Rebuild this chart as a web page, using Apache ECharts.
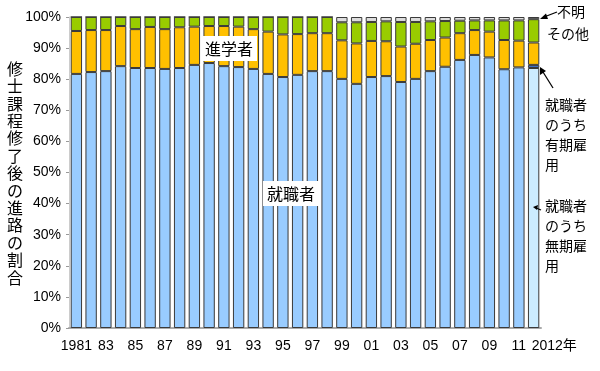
<!DOCTYPE html>
<html>
<head>
<meta charset="utf-8">
<script src="https://cdn.jsdelivr.net/npm/echarts@6/dist/echarts.min.js"></script>
<style>html,body{margin:0;padding:0;background:#fff}#c{width:600px;height:371px}</style>
</head>
<body>
<div id="c"></div>
<script>
var years = ['1981','82','83','84','85','86','87','88','89','90','91','92','93','94','95','96','97','98','99','00','01','02','03','04','05','06','07','08','09','10','11','2012'];
var employed = [81.7,82.3,82.6,84.2,83.6,83.6,83.3,83.6,84.6,85.2,84.2,83.9,83.3,81.7,80.7,81.4,82.6,82.6,80.1,78.5,80.7,81.0,79.1,80.1,82.6,84.0,86.2,87.8,87.0,83.2,83.8,83.6];
var fixedTerm = [null,null,null,null,null,null,null,null,null,null,null,null,null,null,null,null,null,null,null,null,null,null,null,null,null,null,null,null,null,null,null,1.0];
var further = [13.8,13.5,13.2,12.9,12.5,13.2,12.8,13.1,12.3,11.9,12.9,13.0,12.8,13.6,13.7,13.1,12.2,12.2,12.4,13.0,11.6,11.2,11.4,11.3,10.0,9.4,8.6,8.0,8.3,9.4,8.6,7.2];
var other = [4.5,4.2,4.2,2.9,3.9,3.2,3.9,3.3,3.1,2.9,2.9,3.1,3.9,4.7,5.6,5.5,5.2,5.2,5.8,6.8,6.1,6.4,7.9,7.0,6.0,5.3,4.0,3.1,3.6,6.3,6.5,7.5];
var unknown = [0,0,0,0,0,0,0,0,0,0,0,0,0,0,0,0,0,0,1.7,1.7,1.6,1.4,1.6,1.6,1.4,1.3,1.2,1.1,1.1,1.1,1.1,0.7];
var yTicks = ['0%','10%','20%','30%','40%','50%','60%','70%','80%','90%','100%'];

var FONT = '"Liberation Sans","Noto Sans CJK JP",sans-serif';
var JFONT = '"Noto Sans CJK JP",sans-serif';
var chart = echarts.init(document.getElementById('c'), null, {renderer:'canvas'});
var border = {borderColor:'#3a3a3a', borderWidth:1};
function st(name, data, color){
  return {name:name, type:'bar', stack:'a', data:data, barCategoryGap:'23%',
    itemStyle:Object.assign({color:color}, border), emphasis:{disabled:true}, animation:false};
}
var empData = employed.map(function(v,i){ return i===31 ? {value:v, itemStyle:{color:'#ccecff'}} : v; });
var catData = years.map(function(y,i){
  if(i===31) return {value:y, textStyle:{align:'left', padding:[0,0,0,-2]}};
  return y;
});
var Z = 100;
chart.setOption({
  animation:false,
  grid:{left:69, right:59, top:17, bottom:43},
  xAxis:{type:'category', data:catData,
    axisLine:{lineStyle:{color:'#aaaaaa', width:2}}, axisTick:{show:false},
    axisLabel:{interval:0, color:'#000', fontSize:14, fontFamily:FONT, margin:11,
      formatter:function(v,i){ if(i===0) return '1981'; if(i===31) return '2012年'; return i%2===0 ? v : ''; }}},
  yAxis:{type:'value', min:0, max:100, interval:10,
    splitLine:{show:false},
    axisLine:{show:true, lineStyle:{color:'#cccccc'}},
    axisTick:{show:true, length:3, lineStyle:{color:'#999'}},
    axisLabel:{color:'#000', fontSize:14, fontFamily:FONT, margin:8,
      formatter:function(v){ return yTicks[Math.round(v/10)]; }}},
  series:[
    st('就職者', empData, '#99ccff'),
    st('就職者のうち有期雇用', fixedTerm, '#3f6fc4'),
    st('進学者', further, '#ffc000'),
    st('その他', other, '#99cc00'),
    st('不明', unknown, '#dddddd')
  ],
  graphic:[
    {type:'text', z:Z, left:7, top:60, style:{text:'修\n士\n課\n程\n修\n了\n後\nの\n進\n路\nの\n割\n合', font:'16px '+JFONT, lineHeight:17.4, fill:'#000'}},
    {type:'rect', z:Z, shape:{x:201, y:36, width:56, height:25}, style:{fill:'#fff'}},
    {type:'text', z:Z+1, x:229, y:48.5, style:{text:'進学者', font:'16px '+JFONT, fill:'#000', align:'center', verticalAlign:'middle'}},
    {type:'rect', z:Z, shape:{x:263, y:181, width:56, height:25}, style:{fill:'#fff'}},
    {type:'text', z:Z+1, x:291, y:193.5, style:{text:'就職者', font:'16px '+JFONT, fill:'#000', align:'center', verticalAlign:'middle'}},
    {type:'text', z:Z, x:557, y:5, style:{text:'不明', font:'14px '+JFONT, fill:'#000'}},
    {type:'text', z:Z, x:547, y:27, style:{text:'その他', font:'14px '+JFONT, fill:'#000'}},
    {type:'text', z:Z, x:545, y:95, style:{text:'就職者\nのうち\n有期雇\n用', font:'14px '+JFONT, lineHeight:20, fill:'#000'}},
    {type:'text', z:Z, x:545, y:196, style:{text:'就職者\nのうち\n無期雇\n用', font:'14px '+JFONT, lineHeight:20, fill:'#000'}},
    {type:'line', z:Z, shape:{x1:557, y1:12, x2:544, y2:17}, style:{stroke:'#000', lineWidth:1.3}},
    {type:'polygon', z:Z, shape:{points:[[540,19],[546,13.5],[548,19]]}, style:{fill:'#000'}},
    {type:'line', z:Z, shape:{x1:553, y1:88, x2:543, y2:72}, style:{stroke:'#000', lineWidth:1.3}},
    {type:'polygon', z:Z, shape:{points:[[540,67],[540,75],[546,71]]}, style:{fill:'#000'}},
    {type:'line', z:Z, shape:{x1:541, y1:210, x2:536, y2:208}, style:{stroke:'#000', lineWidth:1.2}},
    {type:'polygon', z:Z, shape:{points:[[533,207],[538,205],[537,210]]}, style:{fill:'#000'}}
  ]
});
</script>
</body>
</html>
